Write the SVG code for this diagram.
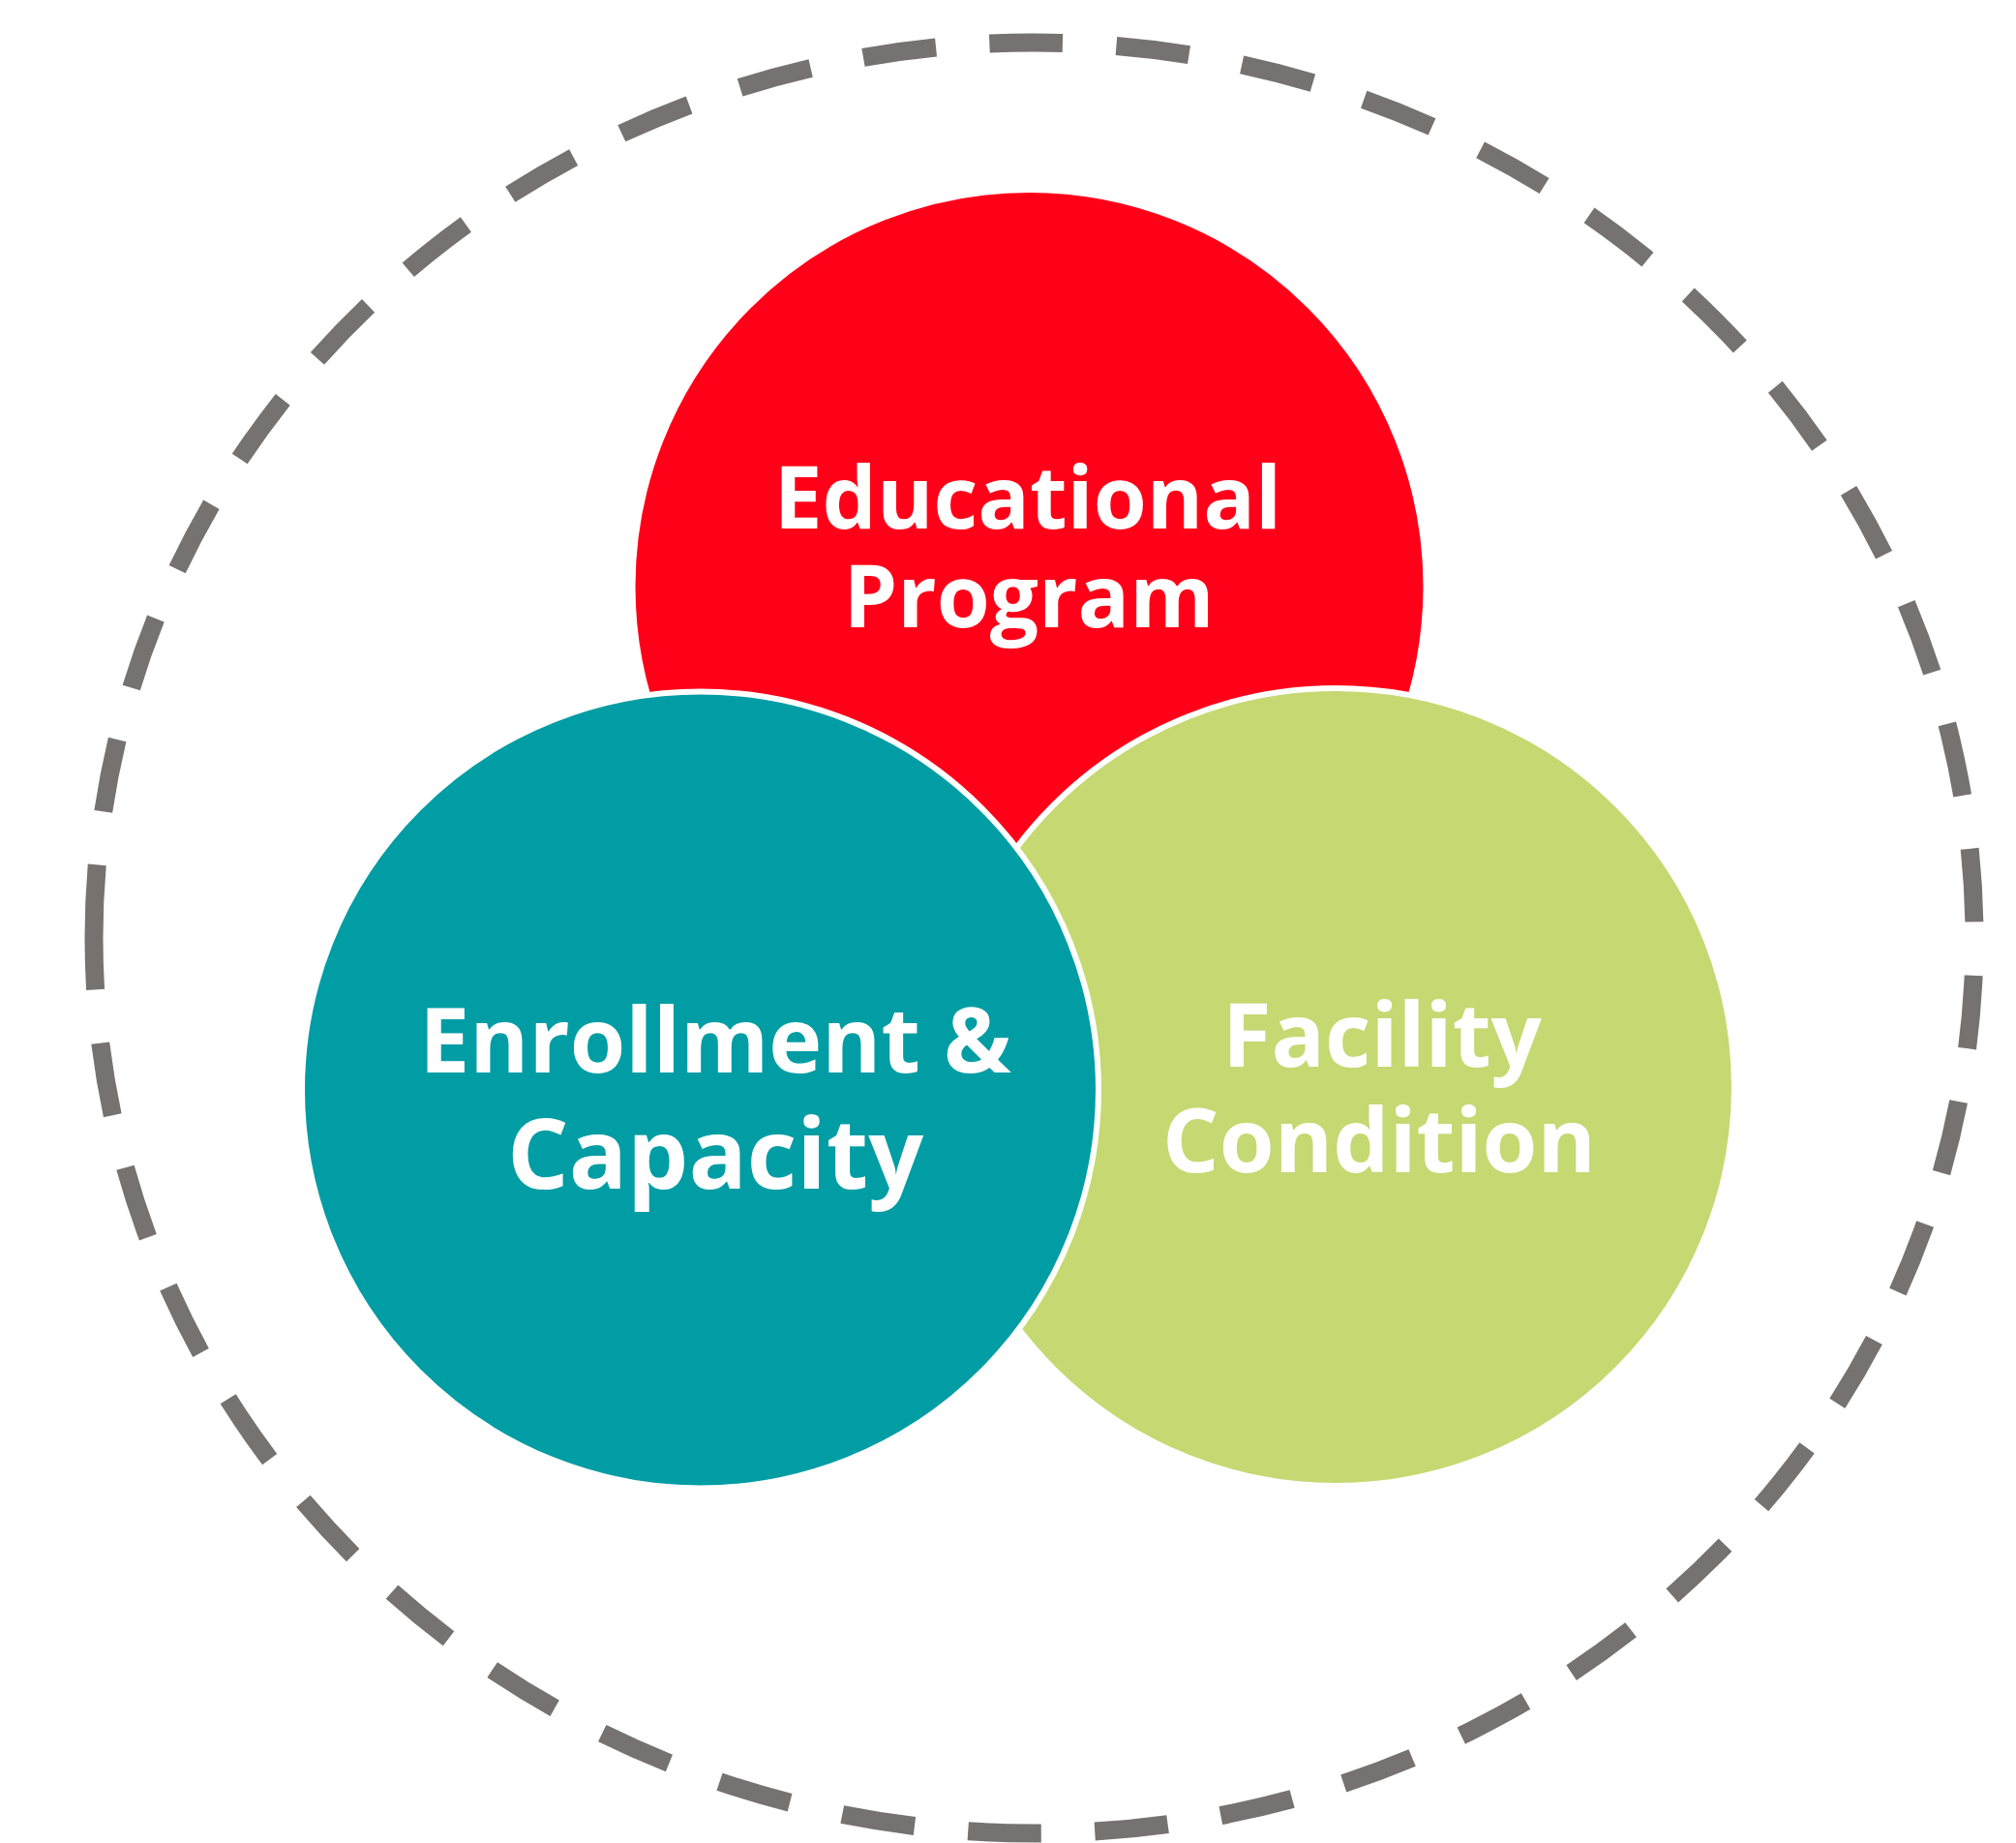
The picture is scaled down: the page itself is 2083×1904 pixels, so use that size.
<svg xmlns="http://www.w3.org/2000/svg" width="2083" height="1904" viewBox="0 0 2083 1904">
  <style>
    .bubble { stroke: #FFFFFF; stroke-width: 6; }
    .label { font-family: "Open Sans", "Liberation Sans", sans-serif; font-weight: 700; fill: #FFFFFF; text-anchor: middle; }
    .outline { fill: none; stroke: #767271; stroke-width: 19; stroke-dasharray: 75 55; }
  </style>
  <rect x="0" y="0" width="2083" height="1904" fill="#FFFFFF"/>
  <g id="boundary">
    <path class="outline" pathLength="5903" d="M 97 969 A 971.5 925 0 1 1 2040 969 A 971.5 925 0 1 1 97 969"/>
  </g>
  <g id="educational-program">
    <circle class="bubble" cx="1063.5" cy="606" r="410" fill="#FF0018"/>
    <text class="label" x="1062" y="546" font-size="89">Educational</text>
    <text class="label" x="1063" y="648" font-size="89">Program</text>
  </g>
  <g id="facility-condition">
    <circle class="bubble" cx="1380" cy="1123" r="412" fill="#C6D872"/>
    <text class="label" x="1428" y="1102" font-size="92">Facility</text>
    <text class="label" x="1425" y="1211" font-size="92">Condition</text>
  </g>
  <g id="enrollment-capacity">
    <circle class="bubble" cx="723.5" cy="1126" r="411.5" fill="#009DA4"/>
    <text class="label" x="739" y="1108" font-size="93">Enrollment &amp;</text>
    <text class="label" x="739" y="1228" font-size="100">Capacity</text>
  </g>
  <g id="connectors"></g>
</svg>
